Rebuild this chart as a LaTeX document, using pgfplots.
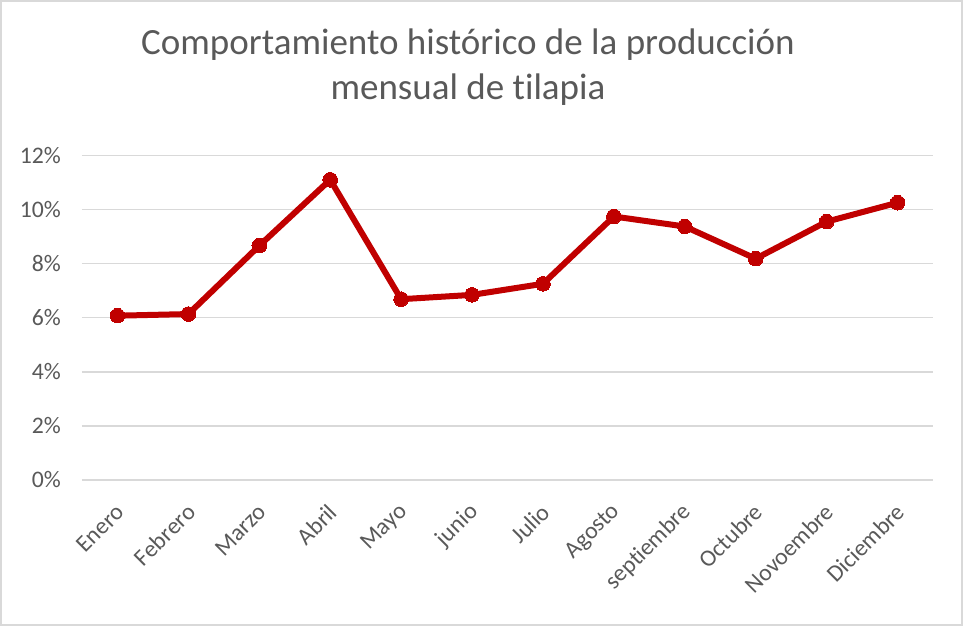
\documentclass[border=0pt]{standalone}
\usepackage{fontspec}
\setmainfont{Carlito}[Ligatures=NoCommon]
\usepackage{pgfplots}
\pgfplotsset{compat=1.18}
\definecolor{txt}{HTML}{595959}
\definecolor{gridc}{HTML}{D9D9D9}
\definecolor{ln}{HTML}{C00000}
\begin{document}
\begin{tikzpicture}[x=1pt,y=1pt]
\begin{axis}[at={(0pt,0pt)}, anchor=south west, scale only axis,
  width=851pt, height=324.3pt,
  xmin=-0.5, xmax=11.5, ymin=0, ymax=12,
  ytick={0,2,...,12},
  yticklabel={\pgfmathprintnumber{\tick}\%},
  xtick={0,...,11},
  xticklabels={Enero,Febrero,Marzo,Abril,Mayo,junio,Julio,Agosto,septiembre,Octubre,Novoembre,Diciembre},
  axis line style={draw=none}, major tick length=0pt,
  ymajorgrids, grid style={gridc, line width=1.3pt},
  tick label style={font=\fontsize{23.7}{28}\selectfont, text=txt, inner sep=0pt},
  yticklabel style={anchor=east, xshift=-21pt},
  xticklabel style={rotate=45, anchor=east, xshift=-18pt, yshift=-22pt},
  /pgf/number format/assume math mode=true,
  clip=false]
\addplot[ln, line width=6pt, line join=round, mark=*, mark size=7.3pt,
  mark options={fill=ln, draw=ln, line width=0pt}] coordinates {
  (0,6.08) (1,6.14) (2,8.67) (3,11.11) (4,6.69) (5,6.85)
  (6,7.26) (7,9.75) (8,9.38) (9,8.19) (10,9.56) (11,10.26)};
\end{axis}
\node[font=\fontsize{37}{44}\selectfont, text=txt, anchor=base] at (386pt,425pt) {Comportamiento histórico de la producción};
\node[font=\fontsize{37}{44}\selectfont, text=txt, anchor=base] at (386pt,380pt) {mensual de tilapia};
\draw[gridc, line width=2pt] (-81pt,-145pt) rectangle (880pt,479pt);
\end{tikzpicture}
\end{document}
